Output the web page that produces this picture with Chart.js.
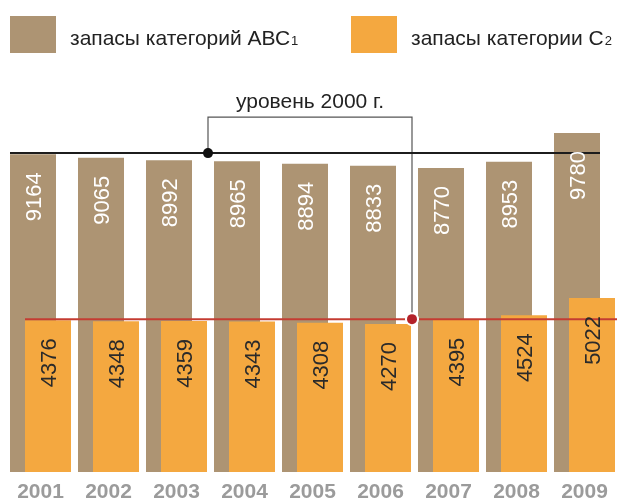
<!DOCTYPE html>
<html lang="ru">
<head>
<meta charset="utf-8">
<script src="https://cdn.jsdelivr.net/npm/chart.js@4.4.1/dist/chart.umd.min.js"></script>
<style>
  html, body { margin: 0; padding: 0; background: #fff; overflow: hidden; }
  #wrap { position: relative; width: 617px; height: 502px; overflow: hidden; }
  #chart { position: absolute; left: 0; top: 0; }
</style>
</head>
<body>
<div id="wrap"><canvas id="chart" width="620" height="502"></canvas></div>
<script>
const years = ['2001', '2002', '2003', '2004', '2005', '2006', '2007', '2008', '2009'];
const abc1 = [9164, 9065, 8992, 8965, 8894, 8833, 8770, 8953, 9780];
const c2 = [4376, 4348, 4359, 4343, 4308, 4270, 4395, 4524, 5022];
const seriesNames = ['запасы категорий АВС', 'запасы категории С'];
const seriesSubs = ['1', '2'];
const levelAbc1 = 9200;   // уровень 2000 г.
const levelC2 = 4410;
const levelLabel = 'уровень 2000 г.';

const FONT = "'Liberation Sans', Arial, sans-serif";
const BROWN = '#ad9473';
const ORANGE = '#f4a840';

// brown bars sit to the left but must be painted under the orange ones:
// skip dataset 0 in the normal pass and paint it first
const backBars = {
  id: 'backBars',
  beforeDatasetsDraw(chart) {
    chart.getDatasetMeta(0).controller.draw();
  },
  beforeDatasetDraw(chart, args) {
    if (args.index === 0) return false;
  }
};

// legend, level lines, bracket and value labels drawn on the canvas
const extras = {
  id: 'extras',
  afterDatasetsDraw(chart) {
    const ctx = chart.ctx;
    const x = chart.scales.x, y = chart.scales.y;
    const m0 = chart.getDatasetMeta(0).data;
    const m1 = chart.getDatasetMeta(1).data;

    const blackY = y.getPixelForValue(levelAbc1);
    const redY = y.getPixelForValue(levelC2);
    const bx = (x.getPixelForValue(2) + x.getPixelForValue(3)) / 2 - 2.5;
    const rx = (x.getPixelForValue(5) + x.getPixelForValue(6)) / 2 - 2.5;
    const topY = blackY - 36;

    ctx.save();
    // bracket
    ctx.strokeStyle = '#555';
    ctx.lineWidth = 1.2;
    ctx.beginPath();
    ctx.moveTo(bx, blackY);
    ctx.lineTo(bx, topY);
    ctx.lineTo(rx, topY);
    ctx.lineTo(rx, redY);
    ctx.stroke();

    // level lines
    ctx.lineWidth = 2;
    ctx.strokeStyle = '#1c1c1c';
    ctx.beginPath();
    ctx.moveTo(m0[0].x - m0[0].width / 2, blackY);
    ctx.lineTo(m0[8].x + m0[8].width / 2, blackY);
    ctx.stroke();
    ctx.strokeStyle = '#c43c32';
    ctx.beginPath();
    ctx.moveTo(m1[0].x - m1[0].width / 2, redY);
    ctx.lineTo(chart.width, redY);
    ctx.stroke();

    // dots
    ctx.fillStyle = '#111';
    ctx.beginPath();
    ctx.arc(bx, blackY, 5, 0, Math.PI * 2);
    ctx.fill();
    ctx.fillStyle = '#fff';
    ctx.beginPath();
    ctx.arc(rx, redY, 7, 0, Math.PI * 2);
    ctx.fill();
    ctx.fillStyle = '#b3222a';
    ctx.beginPath();
    ctx.arc(rx, redY, 5, 0, Math.PI * 2);
    ctx.fill();

    // level label
    ctx.fillStyle = '#222';
    ctx.font = '21px ' + FONT;
    ctx.textAlign = 'center';
    ctx.textBaseline = 'alphabetic';
    ctx.fillText(levelLabel, (bx + rx) / 2, topY - 9);

    // value labels, rotated
    ctx.font = '22px ' + FONT;
    ctx.textAlign = 'right';
    [[m0, abc1, '#fff'], [m1, c2, '#2a2a2a']].forEach(([bars, vals, col]) => {
      ctx.fillStyle = col;
      bars.forEach((b, i) => {
        ctx.save();
        ctx.translate(b.x, b.y + 18);
        ctx.rotate(-Math.PI / 2);
        ctx.fillText(String(vals[i]), 0, 8);
        ctx.restore();
      });
    });

    // legend
    const lx = [10, 351];
    ctx.textAlign = 'left';
    chart.data.datasets.forEach((ds, i) => {
      ctx.fillStyle = ds.backgroundColor;
      ctx.fillRect(lx[i], 16, 46, 37);
      ctx.fillStyle = '#222';
      ctx.font = '21px ' + FONT;
      ctx.fillText(seriesNames[i], lx[i] + 60, 45);
      const w = ctx.measureText(seriesNames[i]).width;
      ctx.font = '13px ' + FONT;
      ctx.fillText(seriesSubs[i], lx[i] + 61 + w, 45);
    });
    ctx.restore();
  }
};

new Chart(document.getElementById('chart'), {
  type: 'bar',
  data: {
    labels: years,
    datasets: [
      {
        label: seriesNames[0] + seriesSubs[0],
        data: abc1,
        backgroundColor: BROWN,
        categoryPercentage: 30 / 68,
        barPercentage: 46 / 15
      },
      {
        label: seriesNames[1] + seriesSubs[1],
        data: c2,
        backgroundColor: ORANGE,
        categoryPercentage: 30 / 68,
        barPercentage: 46 / 15
      }
    ]
  },
  options: {
    responsive: false,
    animation: false,
    layout: { padding: { top: 90.7, left: 6.5, right: 1.5, bottom: 0 } },
    plugins: {
      legend: { display: false },
      tooltip: { enabled: false }
    },
    scales: {
      x: {
        offset: true,
        grid: { display: false, drawTicks: false },
        border: { display: false },
        ticks: {
          color: '#9b9b9b',
          font: { family: FONT, size: 21, weight: 'bold' },
          padding: 8
        },
        afterFit(scale) { scale.height = 30; }
      },
      y: { display: false, min: 0, max: 11000 }
    }
  },
  plugins: [backBars, extras]
});
</script>
</body>
</html>
